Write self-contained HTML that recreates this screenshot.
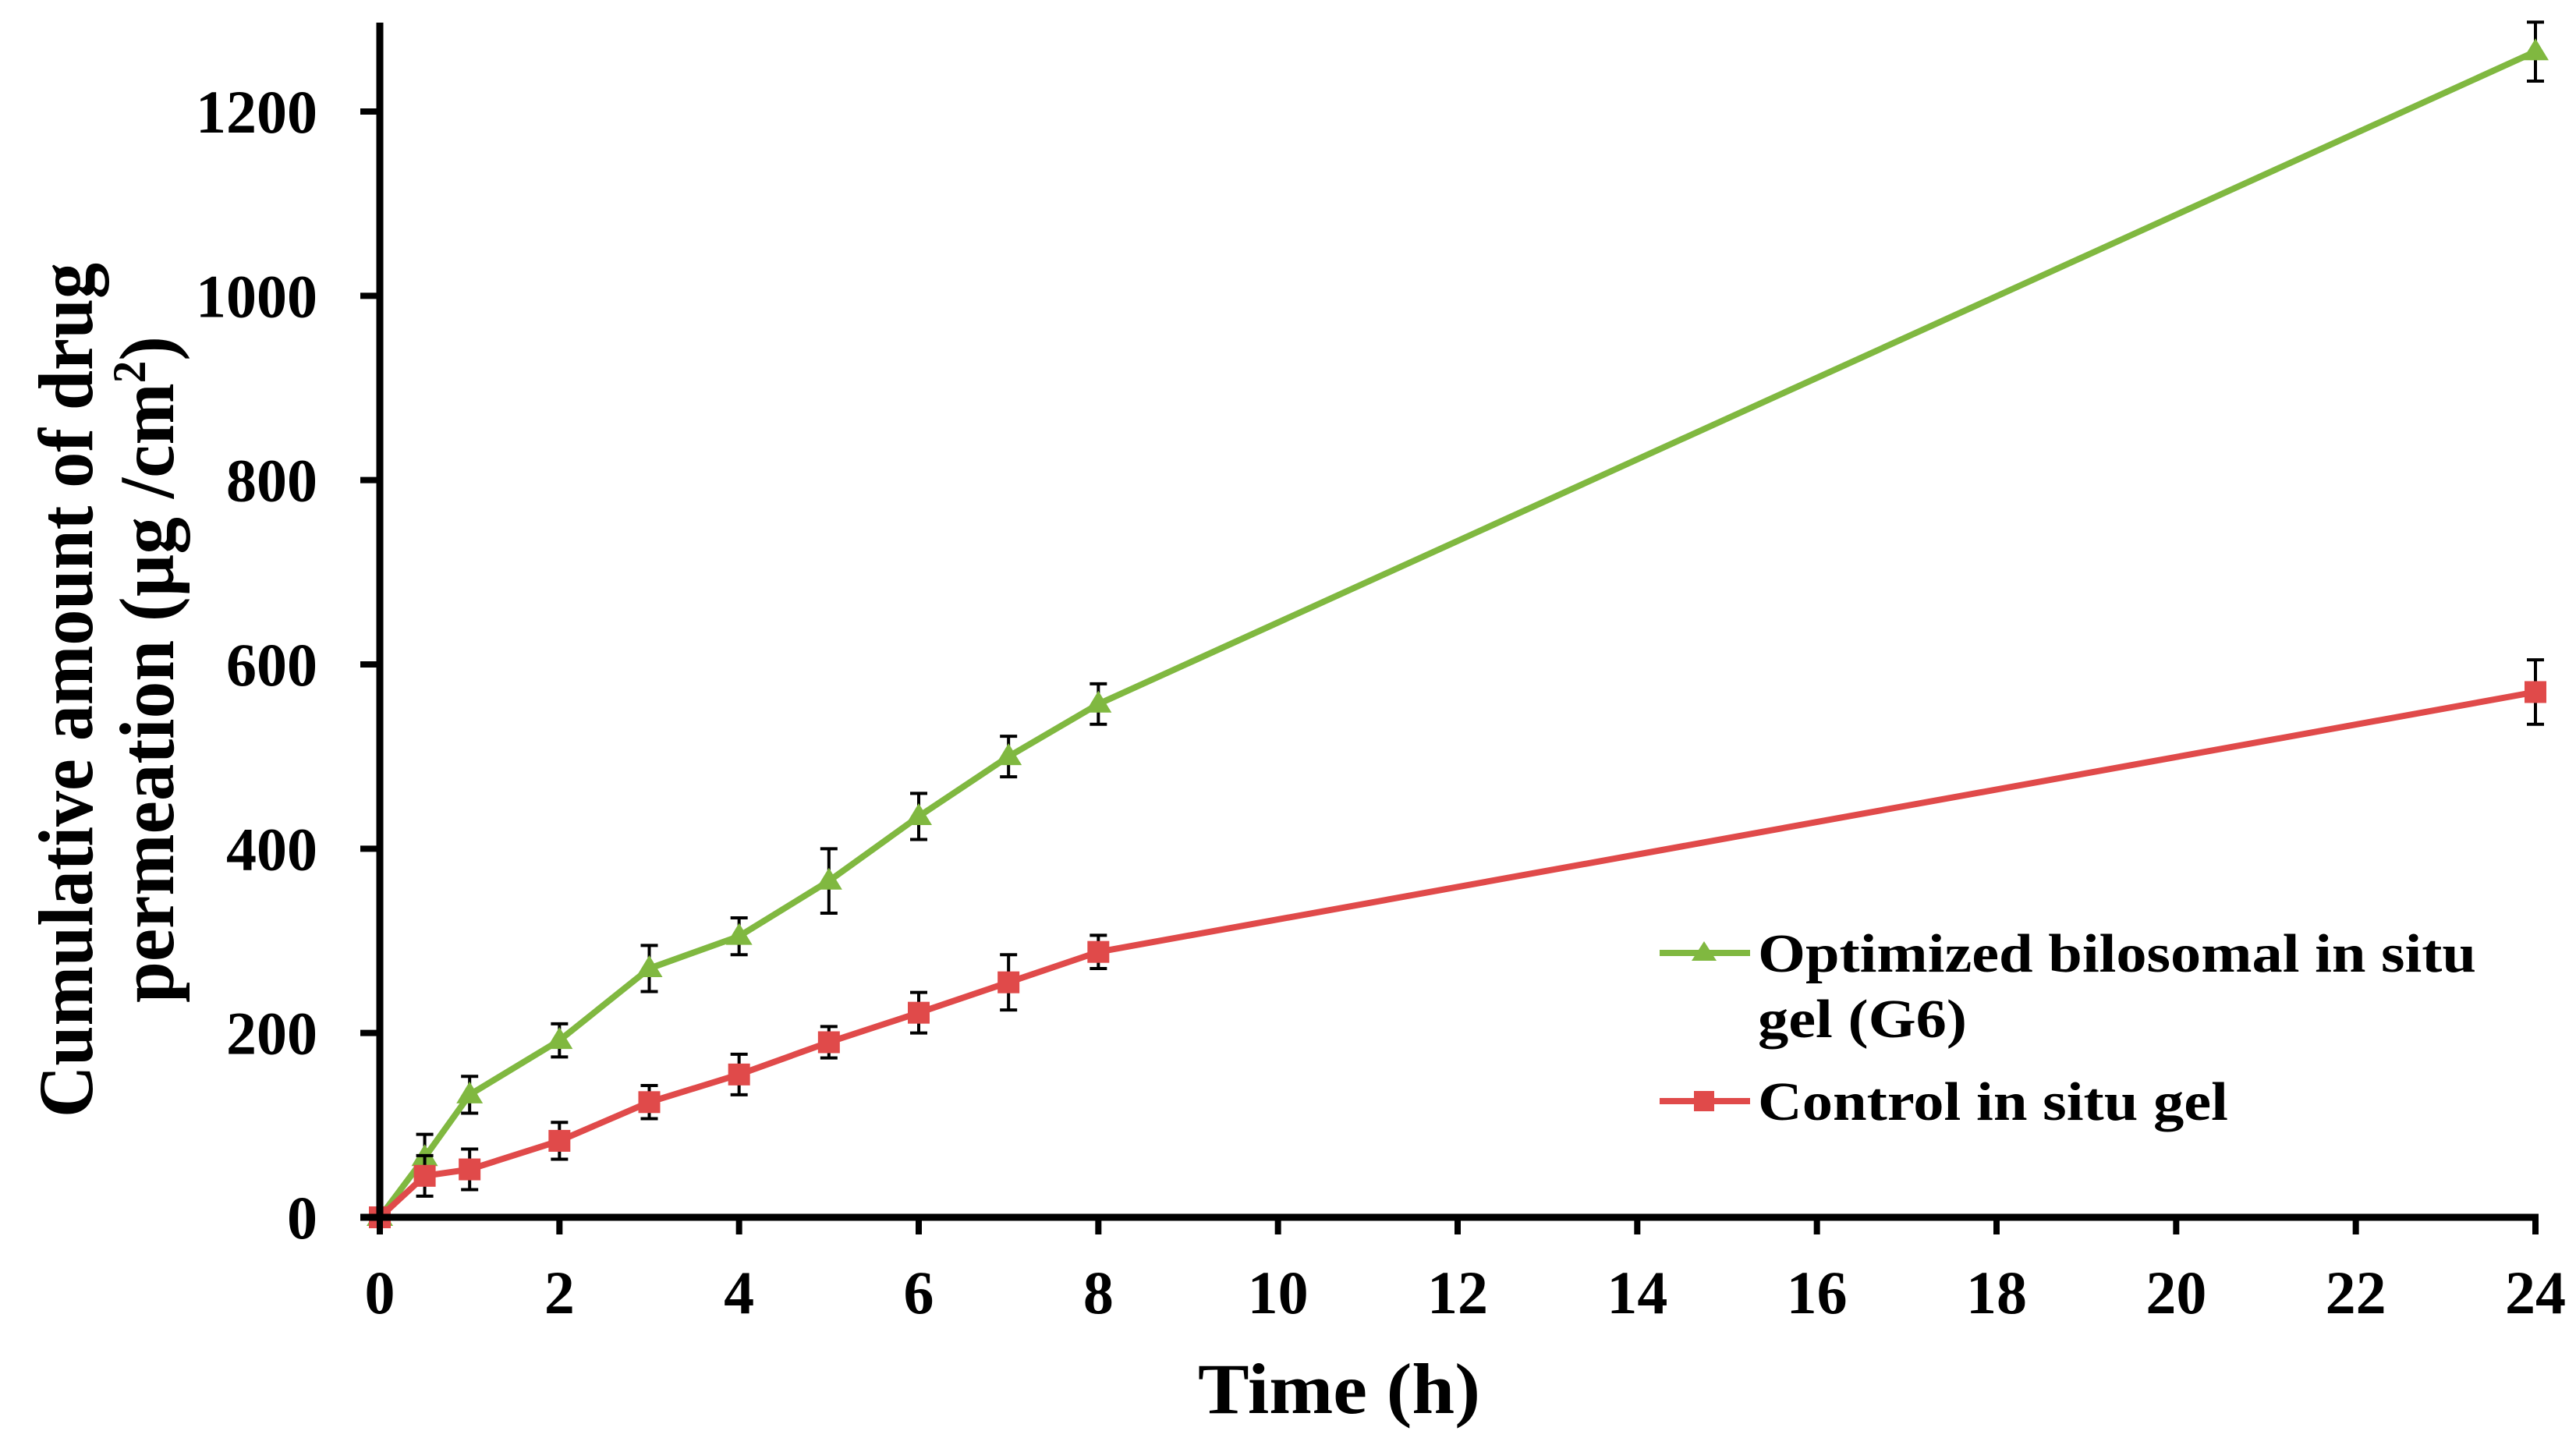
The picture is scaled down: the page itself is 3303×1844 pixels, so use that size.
<!DOCTYPE html>
<html><head><meta charset="utf-8"><style>
html,body{margin:0;padding:0;background:#fff;}
svg{display:block;font-family:"Liberation Serif",serif;font-weight:bold;}
</style></head><body>
<svg id="chart" width="3303" height="1844" viewBox="0 0 3303 1844" xmlns="http://www.w3.org/2000/svg">
<g id="series"></g>
<g id="axes"></g>
<g id="legend">
  <line x1="2128" y1="1222" x2="2244" y2="1222" stroke="#80b840" stroke-width="8"/>
  <polygon points="2185,1207 2201,1232 2169,1232" fill="#80b840"/>
  <text x="2254" y="1246" font-size="70" textLength="921" lengthAdjust="spacingAndGlyphs">Optimized bilosomal in situ</text>
  <text x="2254" y="1330" font-size="70" textLength="268" lengthAdjust="spacingAndGlyphs">gel (G6)</text>
  <line x1="2128" y1="1412" x2="2244" y2="1412" stroke="#e04a4a" stroke-width="8"/>
  <rect x="2172" y="1399" width="26" height="26" fill="#e04a4a"/>
  <text x="2254" y="1436" font-size="70" textLength="603" lengthAdjust="spacingAndGlyphs">Control in situ gel</text>
</g>
<text x="1536" y="1812" font-size="92" textLength="362" lengthAdjust="spacingAndGlyphs">Time (h)</text>
<text transform="translate(118,1433) rotate(-90)" font-size="100" textLength="1096" lengthAdjust="spacingAndGlyphs">Cumulative amount of drug</text>
<text transform="translate(222,1286) rotate(-90)" font-size="100" textLength="855" lengthAdjust="spacingAndGlyphs">permeation (µg /cm<tspan font-size="60" dy="-36">2</tspan><tspan dy="36">)</tspan></text>
</svg>
<script>
const times = [0, 0.5, 1, 2, 3, 4, 5, 6, 7, 8, 24];
const optimizedValues = [0, 65, 133, 192, 270, 305, 365, 435, 500, 557, 1265];
const optimizedErrors = [0, 25, 20, 18, 25, 20, 35, 25, 22, 22, 32];
const controlValues = [0, 45, 52, 83, 125, 155, 190, 222, 255, 288, 570];
const controlErrors = [0, 22, 22, 20, 18, 22, 17, 22, 30, 18, 35];
const xTicks = [0, 2, 4, 6, 8, 10, 12, 14, 16, 18, 20, 22, 24];
const yTicks = [0, 200, 400, 600, 800, 1000, 1200];

const NS = "http://www.w3.org/2000/svg";
const X0 = 487, X1 = 3251, Y0 = 1561, Y1200 = 143;
function xs(v){ return X0 + (X1 - X0) * v / 24; }
function ys(v){ return Y0 - (Y0 - Y1200) * v / 1200; }
function mk(tag, attrs, parent){ const e = document.createElementNS(NS, tag); for (const k in attrs) e.setAttribute(k, attrs[k]); parent.appendChild(e); return e; }

const axes = document.getElementById('axes');
const series = document.getElementById('series');

let yAxis = mk('line', {x1:X0, y1:29, x2:X0, y2:Y0+4, stroke:'#000', 'stroke-width':9}, axes);


let xAxis = mk('line', {x1:X0-25, y1:Y0, x2:X1+4, y2:Y0, stroke:'#000', 'stroke-width':9}, axes);



yTicks.forEach(v => {
  const t = mk('line', {x1:X0-25, y1:ys(v), x2:X0, y2:ys(v), stroke:'#000', 'stroke-width':8}, axes);
  
  
  const l = mk('text', {x:407, y:ys(v)+27, 'font-size':78, 'text-anchor':'end'}, axes);
  l.textContent = v;
  
  
});
xTicks.forEach(v => {
  const t = mk('line', {x1:xs(v), y1:Y0, x2:xs(v), y2:Y0+22, stroke:'#000', 'stroke-width':8}, axes);
  
  
  const l = mk('text', {x:xs(v), y:1684, 'font-size':78, 'text-anchor':'middle'}, axes);
  l.textContent = v;
  
  
});

function drawSeries(vals, errs, color, name, marker){
  const g = mk('g', {}, series);
  
  
  const pts = times.map((t,i) => xs(t) + ',' + ys(vals[i])).join(' ');
  const pl = mk('polyline', {points:pts, fill:'none', stroke:color, 'stroke-width':8, 'stroke-linejoin':'round'}, g);
  
  
  times.forEach((t,i) => {
    const x = xs(t), y = ys(vals[i]), e = errs[i];
    if (e > 0) {
      const eb = mk('path', {d:`M${x},${ys(vals[i]-e)}V${ys(vals[i]+e)}M${x-11},${ys(vals[i]-e)}H${x+11}M${x-11},${ys(vals[i]+e)}H${x+11}`, stroke:'#000', 'stroke-width':4, fill:'none'}, g);
      
      
    }
    let m;
    if (marker === 'tri') m = mk('polygon', {points:`${x},${y-17} ${x+17},${y+11} ${x-17},${y+11}`, fill:color}, g);
    else m = mk('rect', {x:x-14, y:y-14, width:28, height:28, fill:color}, g);
    
    
  });
}
drawSeries(optimizedValues, optimizedErrors, '#80b840', 'optimized', 'tri');
drawSeries(controlValues, controlErrors, '#e04a4a', 'control', 'sq');
</script>
</body></html>
